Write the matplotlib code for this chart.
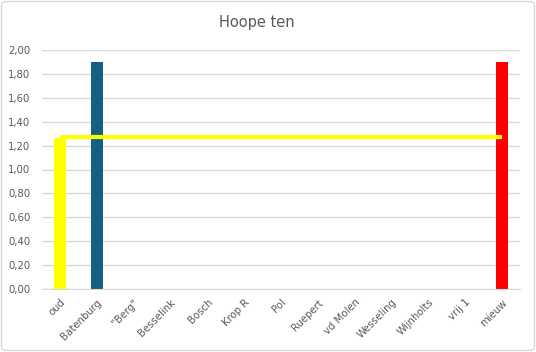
import numpy as np
import matplotlib.pyplot as plt
from matplotlib.patches import FancyBboxPatch

categories = ['oud', 'Batenburg', '"Berg"', 'Besselink', 'Bosch', 'Krop R', 'Pol',
              'Ruepert', 'vd Molen', 'Wesseling', 'Wijnholts', 'vrij 1', 'mieuw']
bar_values = [1.26, 1.90, 0, 0, 0, 0, 0, 0, 0, 0, 0, 0, 1.90]
bar_colors = ['#FFFF00', '#156082', '#156082', '#156082', '#156082', '#156082', '#156082',
              '#156082', '#156082', '#156082', '#156082', '#156082', '#FF0000']
line_values = [1.27] * len(categories)
y_ticks = np.arange(0, 2.01, 0.2)

fig = plt.figure(figsize=(5.36, 3.52), dpi=100)
ax = fig.add_axes([41.6 / 536, 1 - 289 / 352, (520.4 - 41.6) / 536, (289 - 50) / 352])

x = np.arange(len(categories))
ax.bar(x, bar_values, width=0.31, color=bar_colors, zorder=2)
ax.plot(x, line_values, color='#FFFF00', linewidth=3, solid_capstyle='butt', zorder=3)

ax.set_xlim(-0.5, len(categories) - 0.5)
ax.set_ylim(0, 2.0)
ax.set_yticks(y_ticks)
ax.set_yticklabels([f'{v:.2f}'.replace('.', ',') for v in y_ticks])
ax.set_xticks(x)
ax.set_xticklabels(categories, rotation=45, ha='right', rotation_mode='anchor')
ax.tick_params(axis='both', length=0, labelsize=7.3, colors='#595959')
ax.tick_params(axis='x', pad=6)
ax.tick_params(axis='y', pad=8)
ax.grid(axis='y', color='#D9D9D9', linewidth=1, zorder=0)
for s in ['top', 'right', 'left']:
    ax.spines[s].set_visible(False)
ax.spines['bottom'].set_color('#D9D9D9')
ax.set_axisbelow(True)

fig.text(257 / 536, 1 - 23 / 352, 'Hoope ten', ha='center', va='center', fontsize=10.5, color='#595959')

border = FancyBboxPatch((1.5 / 536, 1.5 / 352), 1 - 3 / 536, 1 - 3 / 352,
                        boxstyle='round,pad=0,rounding_size=0.01', transform=fig.transFigure,
                        facecolor='none', edgecolor='#D9D9D9', linewidth=1)
fig.patches.append(border)

fig.savefig('out.png', dpi=100)
